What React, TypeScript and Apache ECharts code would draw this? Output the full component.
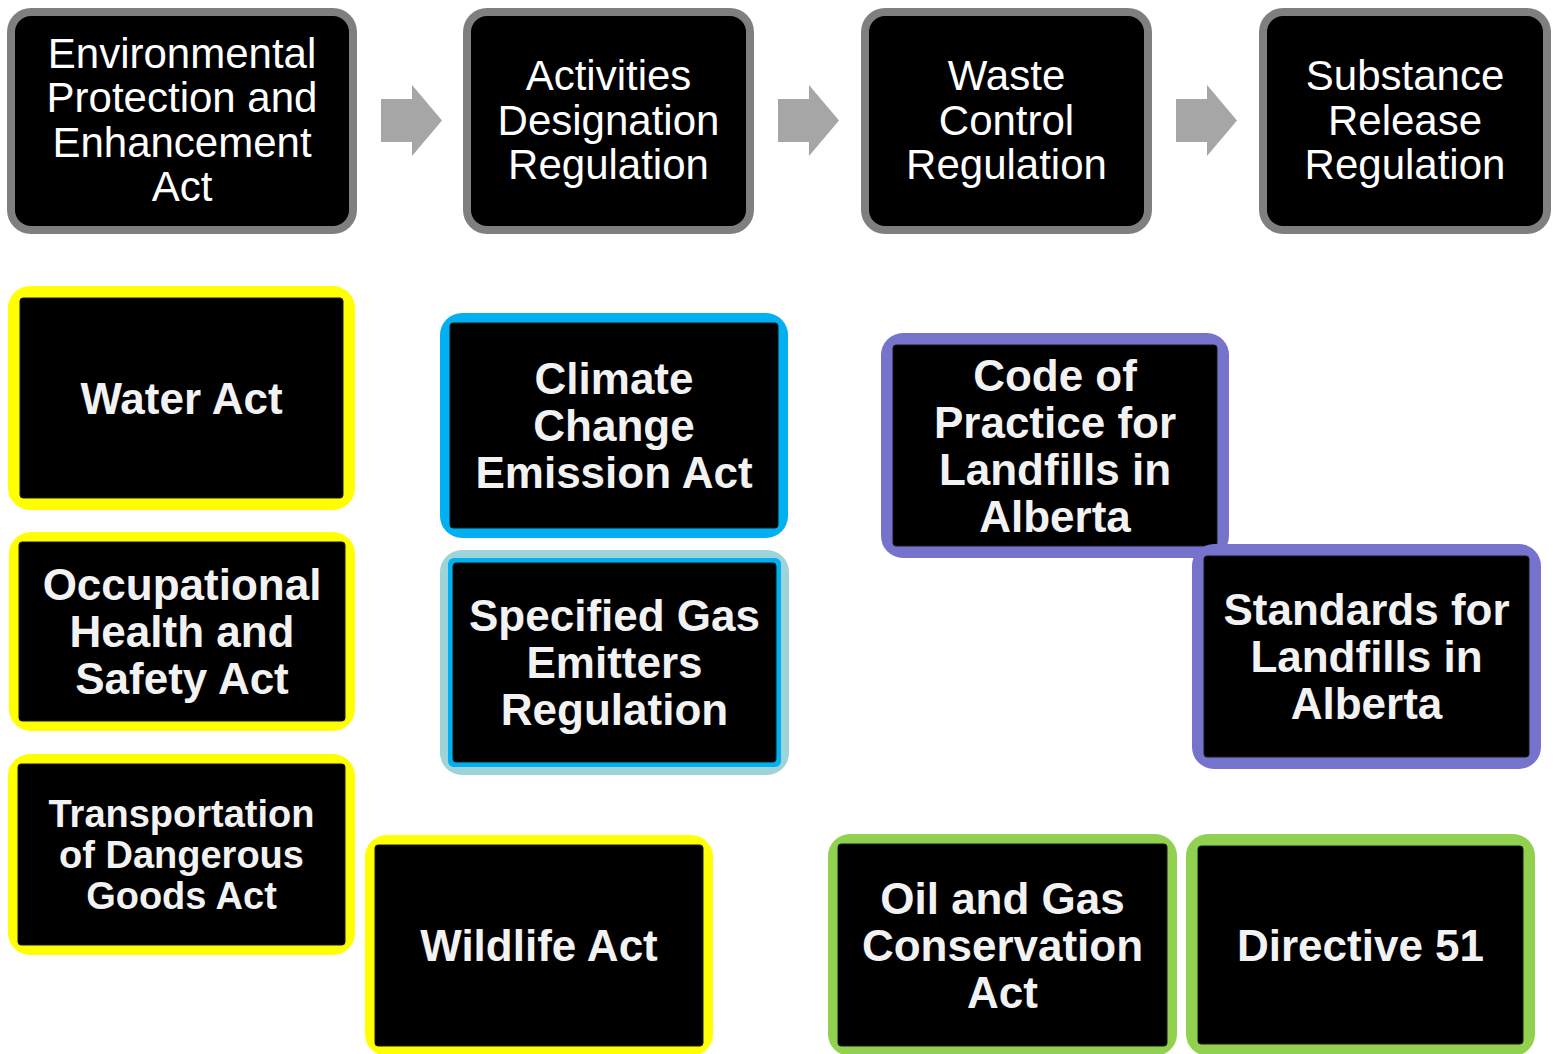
import React, { useEffect, useRef } from "react";
import * as echarts from "echarts";

// ---- content ----
const flowLabels: string[] = [
  "Environmental\nProtection and\nEnhancement\nAct",
  "Activities\nDesignation\nRegulation",
  "Waste\nControl\nRegulation",
  "Substance\nRelease\nRegulation",
];

const lawLabels: string[] = [
  "Water Act",
  "Occupational\nHealth and\nSafety Act",
  "Transportation\nof Dangerous\nGoods Act",
  "Wildlife Act",
  "Climate\nChange\nEmission Act",
  "Specified Gas\nEmitters\nRegulation",
  "Code of\nPractice for\nLandfills in\nAlberta",
  "Standards for\nLandfills in\nAlberta",
  "Oil and Gas\nConservation\nAct",
  "Directive 51",
];

// ---- layout & style (not data) ----
const FLOW_BOXES = [
  { x: 7, y: 8, w: 350, h: 226 },
  { x: 463, y: 8, w: 291, h: 226 },
  { x: 861, y: 8, w: 291, h: 226 },
  { x: 1259, y: 8, w: 292, h: 226 },
];
const ARROW_X = [381, 778, 1176];

const YELLOW = "#ffff00";
const BLUE = "#00b0f0";
const TEAL = "#9ed3d9";
const PURPLE = "#7573cc";
const GREEN = "#92d050";

const LAW_BOXES = [
  { x: 8, y: 286, w: 347, h: 224, c: YELLOW, t: 12, fs: 44, lh: 47 },
  { x: 9, y: 532, w: 346, h: 199, c: YELLOW, t: 10, fs: 44, lh: 47 },
  { x: 8, y: 754, w: 347, h: 201, c: YELLOW, t: 10, fs: 38, lh: 41 },
  { x: 365, y: 835, w: 348, h: 221, c: YELLOW, t: 10, fs: 44, lh: 47 },
  { x: 440, y: 313, w: 348, h: 225, c: BLUE, t: 10, fs: 44, lh: 47 },
  { x: 440, y: 550, w: 349, h: 225, c: TEAL, t: 13, inner: BLUE, it: 5, fs: 44, lh: 47 },
  { x: 881, y: 333, w: 348, h: 225, c: PURPLE, t: 12, fs: 44, lh: 47 },
  { x: 1192, y: 544, w: 349, h: 225, c: PURPLE, t: 12, fs: 44, lh: 47 },
  { x: 828, y: 834, w: 349, h: 222, c: GREEN, t: 10, fs: 44, lh: 47 },
  { x: 1186, y: 834, w: 349, h: 222, c: GREEN, t: 12, fs: 44, lh: 47 },
];

const FONT = "'Liberation Sans', Arial, 'DejaVu Sans', sans-serif";

export default function App() {
  const ref = useRef<HTMLDivElement>(null);

  useEffect(() => {
    if (!ref.current) return;
    const chart = echarts.init(ref.current, undefined, { renderer: "svg" });
    const elements: any[] = [];

    FLOW_BOXES.forEach((b, i) => {
      elements.push({
        type: "rect",
        shape: { x: b.x, y: b.y, width: b.w, height: b.h, r: 24 },
        style: { fill: "#7f7f7f" },
      });
      elements.push({
        type: "rect",
        shape: { x: b.x + 8, y: b.y + 8, width: b.w - 16, height: b.h - 16, r: 16 },
        style: { fill: "#000000" },
      });
      elements.push({
        type: "text",
        x: b.x + b.w / 2,
        y: b.y + b.h / 2 - 1,
        style: {
          text: flowLabels[i],
          fill: "#ffffff",
          fontSize: 42,
          fontFamily: FONT,
          fontWeight: "normal",
          lineHeight: 44.5,
          align: "center",
          verticalAlign: "middle",
        },
      });
    });

    ARROW_X.forEach((ax) => {
      elements.push({
        type: "polygon",
        shape: {
          points: [
            [ax, 99],
            [ax + 31, 99],
            [ax + 31, 85],
            [ax + 61, 120.5],
            [ax + 31, 156],
            [ax + 31, 142],
            [ax, 142],
          ],
        },
        style: { fill: "#a6a6a6" },
      });
    });

    LAW_BOXES.forEach((b, i) => {
      elements.push({
        type: "rect",
        shape: { x: b.x, y: b.y, width: b.w, height: b.h, r: 22 },
        style: { fill: b.c },
      });
      if (b.inner) {
        const o = b.t - (b.it || 0);
        elements.push({
          type: "rect",
          shape: { x: b.x + o, y: b.y + o, width: b.w - 2 * o, height: b.h - 2 * o, r: 6 },
          style: { fill: b.inner },
        });
      }
      elements.push({
        type: "rect",
        shape: { x: b.x + b.t, y: b.y + b.t, width: b.w - 2 * b.t, height: b.h - 2 * b.t, r: 3 },
        style: { fill: "#000000", stroke: "#1a1a1a", lineWidth: 1 },
      });
      elements.push({
        type: "text",
        x: b.x + b.w / 2,
        y: b.y + b.h / 2,
        style: {
          text: lawLabels[i],
          fill: "#f2f2f2",
          fontSize: b.fs,
          fontFamily: FONT,
          fontWeight: "bold",
          lineHeight: b.lh,
          align: "center",
          verticalAlign: "middle",
        },
      });
    });

    chart.setOption({
      animation: false,
      backgroundColor: "#ffffff",
      graphic: { elements },
    });

    return () => chart.dispose();
  }, []);

  return (
    <div
      ref={ref}
      style={{ position: "fixed", left: 0, top: 0, width: 1553, height: 1054 }}
    />
  );
}
